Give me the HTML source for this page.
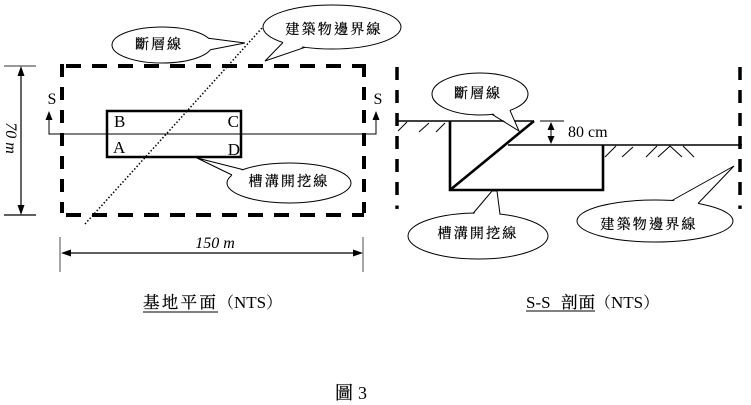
<!DOCTYPE html>
<html><head><meta charset="utf-8">
<style>
html,body{margin:0;padding:0;background:#fff;}
svg{display:block;}
.lat{font-family:"Liberation Serif","Noto Serif CJK SC",serif;}
.cjk{font-family:"Liberation Serif","Noto Serif CJK TC","Noto Serif CJK SC",serif;}
.cl{stroke:#000;stroke-width:0.25;}
</style></head>
<body>
<svg width="751" height="405" viewBox="0 0 751 405" xmlns="http://www.w3.org/2000/svg">
<rect width="751" height="405" fill="#fff"/>

<!-- ============ PLAN ============ -->
<g stroke="#000" stroke-width="4" fill="none">
  <line x1="66" y1="66" x2="364" y2="66" stroke-dasharray="15 11"/>
  <line x1="66" y1="215" x2="364" y2="215" stroke-dasharray="15 11"/>
  <line x1="62" y1="64" x2="62" y2="213" stroke-dasharray="13 10"/>
  <line x1="364" y1="64" x2="364" y2="213" stroke-dasharray="13 10"/>
</g>

<!-- vertical dimension 70 m -->
<line x1="4" y1="66" x2="36" y2="66" stroke="#777" stroke-width="1.5"/>
<line x1="4" y1="215" x2="36" y2="215" stroke="#000" stroke-width="1.2"/>
<line x1="21" y1="70" x2="21" y2="211" stroke="#000" stroke-width="1.2"/>
<polygon points="21,66 17.5,76 24.5,76" fill="#000"/>
<polygon points="21,215 17.5,205 24.5,205" fill="#000"/>
<text class="lat" transform="translate(11,138) rotate(90)" x="0" y="5" font-size="16" font-style="italic" text-anchor="middle">70 m</text>

<!-- horizontal dimension 150 m -->
<line x1="60" y1="237" x2="60" y2="272" stroke="#777" stroke-width="1.3"/>
<line x1="363" y1="237" x2="363" y2="272" stroke="#777" stroke-width="1.3"/>
<line x1="64" y1="253" x2="360" y2="253" stroke="#000" stroke-width="1.2"/>
<polygon points="61,253 71,249.5 71,256.5" fill="#000"/>
<polygon points="363,253 353,249.5 353,256.5" fill="#000"/>
<text class="lat" x="215" y="248" font-size="16" font-style="italic" text-anchor="middle">150 m</text>

<!-- section line S-S -->
<polyline points="49,117 49,134 376,134 376,117" fill="none" stroke="#000" stroke-width="1"/>
<polygon points="49,111 45.5,120 52.5,120" fill="#000"/>
<polygon points="376,111 372.5,120 379.5,120" fill="#000"/>
<text class="lat" x="52" y="104" font-size="16" text-anchor="middle">S</text>
<text class="lat" x="378" y="104" font-size="16" text-anchor="middle">S</text>

<!-- trench rectangle -->
<rect x="107" y="111" width="134" height="46" fill="none" stroke="#000" stroke-width="2.5"/>
<text class="lat" x="114" y="127" font-size="17">B</text>
<text class="lat" x="239" y="127" font-size="17" text-anchor="end">C</text>
<text class="lat" x="113" y="153" font-size="17">A</text>
<text class="lat" x="240" y="155" font-size="17" text-anchor="end">D</text>

<!-- fault dotted line -->
<line x1="85" y1="224" x2="262" y2="28" stroke="#000" stroke-width="1.5" stroke-dasharray="1.5 2"/>

<!-- callout: 斷層線 (plan) -->
<ellipse cx="162" cy="45" rx="50" ry="18" fill="#fff" stroke="#000" stroke-width="1"/>
<polygon points="207,38.5 245,43 208,50" fill="#fff"/>
<polyline points="208.4,38.3 245,43 210.3,49.7" fill="none" stroke="#000" stroke-width="1"/>
<text class="cjk cl" x="159" y="49" font-size="14" letter-spacing="2" text-anchor="middle">斷層線</text>

<!-- callout: 建築物邊界線 (plan) -->
<ellipse cx="332" cy="27" rx="69" ry="22" fill="#fff" stroke="#000" stroke-width="1"/>
<polygon points="284,41 265,61 304,46" fill="#fff"/>
<polyline points="283,42.5 265,61 305,47.3" fill="none" stroke="#000" stroke-width="1"/>
<text class="cjk cl" x="334" y="34" font-size="14" letter-spacing="2.2" text-anchor="middle">建築物邊界線</text>

<!-- callout: 槽溝開挖線 (plan) -->
<ellipse cx="289" cy="183" rx="62" ry="20" fill="#fff" stroke="#000" stroke-width="1"/>
<polygon points="243,170.5 197,158 233,176" fill="#fff"/>
<polyline points="243,169.6 197,158 232,175" fill="none" stroke="#000" stroke-width="1"/>
<text class="cjk cl" x="289" y="186" font-size="14" letter-spacing="2.2" text-anchor="middle">槽溝開挖線</text>

<!-- ============ SECTION ============ -->
<g stroke="#000" stroke-width="3.5">
  <line x1="397" y1="67" x2="397" y2="200" stroke-dasharray="13 10"/>
  <line x1="740" y1="67" x2="740" y2="200" stroke-dasharray="13 10"/>
</g>
<rect x="395.3" y="205.5" width="3.4" height="3.4" fill="#000"/>
<rect x="738.3" y="205.5" width="3.4" height="3.4" fill="#000"/>

<line x1="397" y1="121" x2="534" y2="121" stroke="#000" stroke-width="1.6"/>
<line x1="508" y1="145" x2="742" y2="145" stroke="#000" stroke-width="1.6"/>

<g stroke="#000" stroke-width="1">
  <line x1="398" y1="131" x2="407" y2="122"/>
  <line x1="419" y1="132" x2="429" y2="123"/>
  <line x1="436" y1="132" x2="445" y2="123"/>
  <line x1="605" y1="157" x2="616" y2="146"/>
  <line x1="622" y1="157" x2="633" y2="147"/>
  <line x1="646" y1="157" x2="657" y2="146"/>
  <line x1="658" y1="157" x2="670" y2="146"/>
  <line x1="670" y1="146" x2="682" y2="157"/>
  <line x1="683" y1="146" x2="694" y2="157"/>
</g>

<polyline points="450,121 450,190 603,190 603,145" fill="none" stroke="#000" stroke-width="2.6"/>
<line x1="450" y1="190" x2="534" y2="121" stroke="#000" stroke-width="2.6"/>

<line x1="540" y1="121" x2="564" y2="121" stroke="#000" stroke-width="1"/>
<line x1="551" y1="126" x2="551" y2="140" stroke="#000" stroke-width="1"/>
<polygon points="551,122 547.5,130 554.5,130" fill="#000"/>
<polygon points="551,144 547.5,136 554.5,136" fill="#000"/>
<text class="lat" x="568" y="137" font-size="16">80 cm</text>

<!-- callout: 斷層線 (section) -->
<ellipse cx="480" cy="94" rx="48" ry="21" fill="#fff" stroke="#000" stroke-width="1"/>
<polygon points="492.5,113 519,131 509.5,109.5" fill="#fff"/>
<polyline points="492,114.3 519,131 510,110.4" fill="none" stroke="#000" stroke-width="1"/>
<text class="cjk cl" x="478" y="98" font-size="14" letter-spacing="2" text-anchor="middle">斷層線</text>

<!-- callout: 槽溝開挖線 (section) -->
<ellipse cx="478" cy="236" rx="70" ry="23" fill="#fff" stroke="#000" stroke-width="1"/>
<polygon points="473.5,214.5 492,191.5 497,191.5 499.5,215" fill="#fff"/>
<polyline points="473,213.5 492,191 497,191 500,214.2" fill="none" stroke="#000" stroke-width="1"/>
<text class="cjk cl" x="478" y="238" font-size="14" letter-spacing="2.2" text-anchor="middle">槽溝開挖線</text>

<!-- callout: 建築物邊界線 (section) -->
<ellipse cx="655" cy="221" rx="78" ry="21" fill="#fff" stroke="#000" stroke-width="1"/>
<polygon points="672.5,201.5 734,166 697.5,204.5" fill="#fff"/>
<polyline points="672,200.5 734,166 698,203.5" fill="none" stroke="#000" stroke-width="1"/>
<text class="cjk cl" x="649" y="229" font-size="14" letter-spacing="2.2" text-anchor="middle">建築物邊界線</text>

<!-- ============ CAPTIONS ============ -->
<text class="cjk cl" x="143" y="308" font-size="16.5" letter-spacing="2.3">基地平面</text>
<line x1="143" y1="312" x2="218" y2="312" stroke="#000" stroke-width="1"/>
<text class="cjk" x="218" y="308" font-size="16">（<tspan class="lat" font-size="17">NTS</tspan>）</text>

<text class="lat" x="526" y="308" font-size="17">S-S</text>
<text class="cjk cl" x="561" y="308" font-size="16.5" letter-spacing="1">剖面</text>
<line x1="526" y1="311" x2="595" y2="311" stroke="#000" stroke-width="1"/>
<text class="cjk" x="595" y="308" font-size="16">（<tspan class="lat" font-size="17">NTS</tspan>）</text>

<text class="cjk cl" x="335" y="399" font-size="18">圖</text>
<text class="lat" x="358" y="399" font-size="18">3</text>
</svg>
</body></html>
